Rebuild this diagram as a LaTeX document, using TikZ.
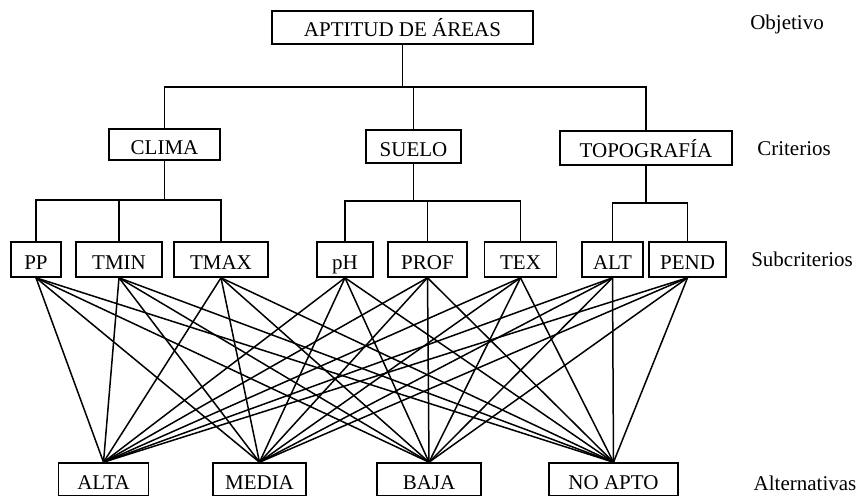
\documentclass[tikz,border=0pt]{standalone}
\usepackage{fontspec}
\setmainfont{Liberation Serif}
\begin{document}
\begin{tikzpicture}[x=1pt,y=-1pt,line width=1.6pt,
        caja/.style={draw,rectangle,inner sep=0pt,text height=19pt,text depth=0pt,font=\fontsize{21}{25}\selectfont},
        nivel/.style={font=\fontsize{21}{25}\selectfont}]
        %% Frame
        \clip (0,0) rectangle (856,495);
        %% Objective
        \node[caja,minimum width=261pt,minimum height=33pt] (apt) at (402.5,27.5) {APTITUD DE ÁREAS};
        %% Criteria
        \node[caja,minimum width=111pt,minimum height=31pt] (clima) at (164.5,144.5) {CLIMA};
        \node[caja,minimum width=95pt,minimum height=33pt] (suelo) at (413.5,146.5) {SUELO};
        \node[caja,minimum width=172pt,minimum height=34pt] (topo) at (646,148) {TOPOGRAFÍA};
        %% Subcriteria
        \node[caja,minimum width=50pt,minimum height=35pt] (pp) at (36,259.5) {PP};
        \node[caja,minimum width=86pt,minimum height=35pt] (tmin) at (119,259.5) {TMIN};
        \node[caja,minimum width=94pt,minimum height=35pt] (tmax) at (221,259.5) {TMAX};
        \node[caja,minimum width=56pt,minimum height=35pt] (ph) at (345,259.5) {pH};
        \node[caja,minimum width=79pt,minimum height=35pt] (prof) at (427.5,259.5) {PROF};
        \node[caja,minimum width=72pt,minimum height=35pt] (tex) at (520.5,259.5) {TEX};
        \node[caja,minimum width=61pt,minimum height=35pt] (alt) at (612.5,259.5) {ALT};
        \node[caja,minimum width=77pt,minimum height=35pt] (pend) at (687.5,259.5) {PEND};
        %% Alternatives
        \node[caja,minimum width=90pt,minimum height=33pt] (alta) at (103.5,479.5) {ALTA};
        \node[caja,minimum width=93pt,minimum height=33pt] (media) at (259.5,479.5) {MEDIA};
        \node[caja,minimum width=104pt,minimum height=33pt] (baja) at (429,479.5) {BAJA};
        \node[caja,minimum width=129pt,minimum height=33pt] (noapto) at (613.5,479.5) {NO APTO};
        %% Level names
        \node[nivel] (lobj) at (787,24) {Objetivo};
        \node[nivel] (lcri) at (794,149) {Criterios};
        \node[nivel] (lsub) at (802,259) {Subcriterios};
        \node[nivel] (lalt) at (805,483) {Alternativas};
        %% Tree
        \coordinate (busA) at (0,87);
        \coordinate (busC) at (0,200);
        \coordinate (busS) at (0,201);
        \coordinate (busT) at (0,203);
        \draw (apt.south) -- (apt.south |- busA);
        \draw (clima.north) -- (clima.north |- busA) -- (topo.north |- busA) -- (topo.north);
        \draw (suelo.north) -- (suelo.north |- busA);
        \draw (clima.south) -- (clima.south |- busC);
        \draw (pp.north) -- (pp.north |- busC) -- (tmax.north |- busC) -- (tmax.north);
        \draw (tmin.north) -- (tmin.north |- busC);
        \draw (suelo.south) -- (suelo.south |- busS);
        \draw (ph.north) -- (ph.north |- busS) -- (tex.north |- busS) -- (tex.north);
        \draw (prof.north) -- (prof.north |- busS);
        \draw (topo.south) -- (topo.south |- busT);
        \draw (alt.north) -- (alt.north |- busT) -- (pend.north |- busT) -- (pend.north);
        %% Links
        \foreach \s in {pp,tmin,tmax,ph,prof,tex,alt,pend}
            \foreach \a in {alta,media,baja,noapto}
                \draw[line width=1.5pt] (\s.south) -- (\a.north);
    \end{tikzpicture}
\end{document}
